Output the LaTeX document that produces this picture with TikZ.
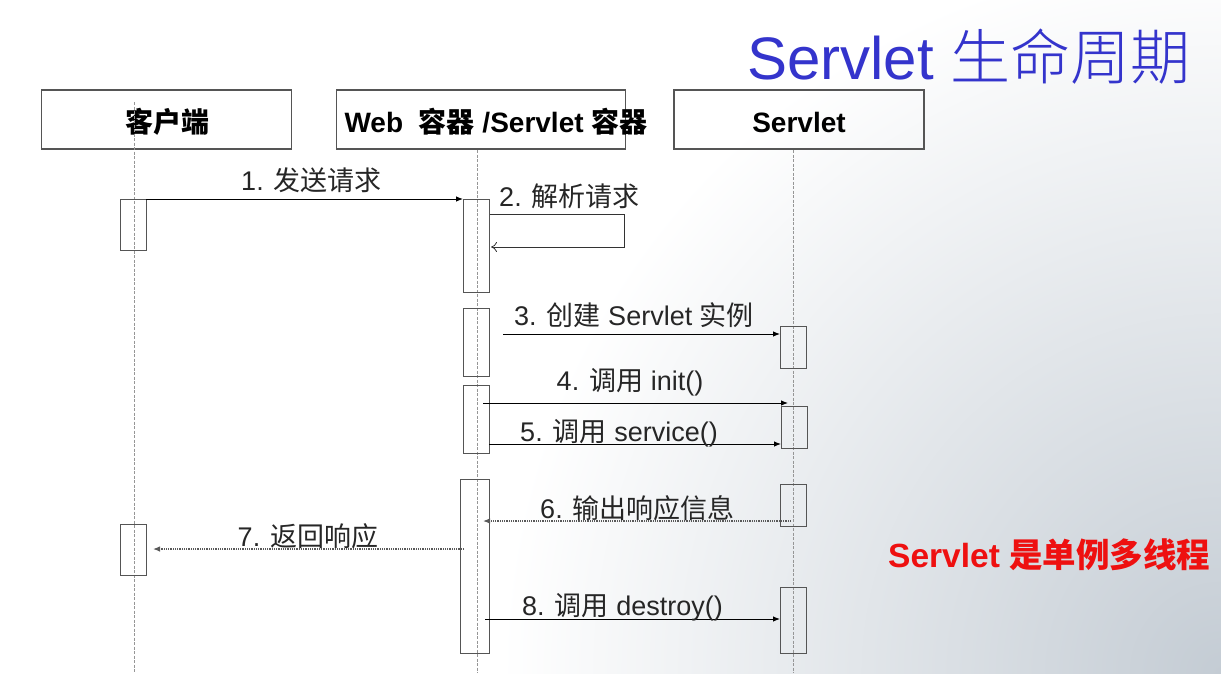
\documentclass[tikz,border=0pt]{standalone}
\usepackage{fontspec}
\setmainfont{Liberation Sans}
\newfontfamily\cjk{Noto Sans CJK SC}
\newfontfamily\cjklight{Noto Sans CJK SC Light}
\usetikzlibrary{arrows.meta,calc}
\definecolor{titleblue}{RGB}{52,52,204}
\definecolor{notered}{RGB}{238,16,16}
\definecolor{boxline}{RGB}{85,85,85}
\definecolor{lifegray}{RGB}{150,150,150}
\definecolor{bgtint}{RGB}{196,204,212}

\begin{document}
\begin{tikzpicture}[x=1pt,y=-1pt,
  hdr/.style={draw=boxline, line width=1.1pt, inner sep=0pt, outer sep=0pt, minimum height=59pt},
  hdrtext/.style={font=\fontsize{28}{30}\selectfont\bfseries, inner sep=0pt, anchor=base},
  bar/.style={draw=boxline, line width=0.9pt, inner sep=0pt, outer sep=0pt, minimum width=26pt},
  lifeline/.style={draw=lifegray, line width=0.7pt, dash pattern=on 3pt off 1.5pt},
  call/.style={draw=black, line width=0.9pt, -{Latex[length=7pt,width=5.5pt]}},
  ret/.style={draw=black!65, line width=1.2pt, dash pattern=on 1pt off 0.8pt, -{Latex[length=7pt,width=5.5pt]}},
  selfcall/.style={draw=black!80, line width=0.8pt, -{To[length=6pt,width=10pt]}},
  lbl/.style={font=\fontsize{27}{29}\selectfont, inner sep=0pt, anchor=base, text=black!85}
]
\useasboundingbox (0,0) rectangle (1221,673);
\fill[white] (0,0) rectangle (1221,673);
% soft tint towards the lower right corner
\begin{scope}
  \clip (0,0) rectangle (1221,673);
  \shade[inner color=bgtint, outer color=white] (1221,673) circle (720pt);
\end{scope}

% title and note
\node[anchor=base west, inner sep=0pt, text=titleblue, font=\fontsize{60}{64}\selectfont] (title) at (747,79) {Servlet {\cjklight 生命周期}};
\node[anchor=base west, inner sep=0pt, text=notered, font=\fontsize{33.5}{35}\selectfont\bfseries] (note) at (888,567) {Servlet {\cjk 是单例多线程}};

% participant heads
\node[hdr, minimum width=250pt] (hclient) at (166.5,119.5) {};
\node[hdr, minimum width=289pt] (hweb) at (481,119.5) {};
\node[hdr, minimum width=250pt] (hservlet) at (799,119.5) {};
\node[hdrtext] (tclient) at (167,132) {\cjk 客户端};
\node[hdrtext] (tweb) at (496,132) {Web\ \ {\cjk 容器} /Servlet {\cjk 容器}};
\node[hdrtext] (tservlet) at (799,132) {Servlet};

% lifelines
\coordinate (lc0) at (134,102);  \coordinate (lc1) at (134,673);
\coordinate (lw0) at (477,150);  \coordinate (lw1) at (477,673);
\coordinate (ls0) at (793,150);  \coordinate (ls1) at (793,673);
\draw[lifeline] (lc0) -- (lc1);
\draw[lifeline] (lw0) -- (lw1);
\draw[lifeline] (ls0) -- (ls1);

% activation bars
\node[bar, minimum height=51pt] (clb1) at (133,224.5) {};
\node[bar, minimum height=51pt] (clb2) at (133,549.5) {};
\node[bar, minimum height=93pt] (cb1) at (476,245.5) {};
\node[bar, minimum height=68pt] (cb2) at (476,342) {};
\node[bar, minimum height=68pt] (cb3) at (476,419) {};
\node[bar, minimum height=174pt, minimum width=29pt] (cb4) at (474.5,566) {};
\node[bar, minimum height=42pt] (sb1) at (793,347) {};
\node[bar, minimum height=42pt] (sb2) at (794,427) {};
\node[bar, minimum height=42pt] (sb3) at (793,505) {};
\node[bar, minimum height=66pt] (sb4) at (793,620) {};

% messages
\draw[call] (clb1.north east) -- (cb1.north west);
\coordinate (m2a) at (490,214);
\coordinate (m2b) at (624,214);
\coordinate (m2c) at (624,247);
\coordinate (m2d) at (491,247);
\draw[selfcall] (m2a) -- (m2b) -- (m2c) -- (m2d);
\coordinate (m3s) at (503,334);
\draw[call] (m3s) -- (m3s -| sb1.west);
\coordinate (m4s) at (483,403);
\coordinate (m4e) at (788,403);
\draw[call] (m4s) -- (m4e);
\coordinate (m5s) at (489,444);
\draw[call] (m5s) -- (m5s -| sb2.west);
\coordinate (m6s) at (791,521);
\coordinate (m6e) at (483,521);
\draw[ret] (m6s) -- (m6e);
\coordinate (m7s) at (464,549);
\coordinate (m7e) at (153,549);
\draw[ret] (m7s) -- (m7e);
\coordinate (m8s) at (485,619);
\draw[call] (m8s) -- (m8s -| sb4.west);

% message labels
\node[lbl] (l1) at (311.5,190) {1. {\cjk 发送请求}};
\node[lbl] (l2) at (569.5,206) {2. {\cjk 解析请求}};
\node[lbl] (l3) at (634,325) {3. {\cjk 创建} Servlet {\cjk 实例}};
\node[lbl] (l4) at (630,390) {4. {\cjk 调用} init()};
\node[lbl] (l5) at (619,441) {5. {\cjk 调用} service()};
\node[lbl] (l6) at (637.5,518) {6. {\cjk 输出响应信息}};
\node[lbl] (l7) at (308,546) {7. {\cjk 返回响应}};
\node[lbl] (l8) at (622.5,615) {8. {\cjk 调用} destroy()};
\end{tikzpicture}
\end{document}
